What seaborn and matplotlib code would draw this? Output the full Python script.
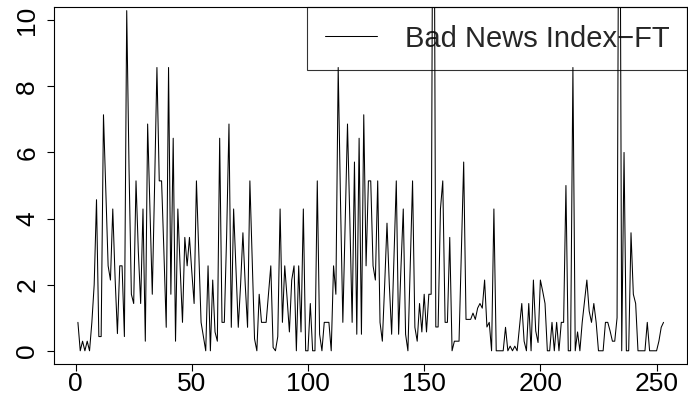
import numpy as np
import matplotlib
matplotlib.use("Agg")
import matplotlib.pyplot as plt
import seaborn as sns

# weekly values of the index
bad_news_ft = [
    0.86, 0, 0.29, 0, 0.29, 0, 0.86, 2.0, 4.57, 0.43,
    0.43, 7.14, 4.9, 2.57, 2.14, 4.29, 2.2, 0.52, 2.57, 2.57,
    0.43, 10.29, 5.5, 1.71, 1.43, 5.14, 3.0, 1.43, 4.29, 0.29,
    6.86, 4.3, 1.71, 5.0, 8.57, 5.14, 5.14, 3.0, 0.71, 8.57,
    1.71, 6.43, 0.29, 4.29, 2.5, 0.86, 3.43, 2.57, 3.43, 2.4,
    1.43, 5.14, 3.0, 0.86, 0.43, 0, 2.57, 0, 2.14, 0.57,
    0.29, 6.43, 0.86, 0.86, 3.5, 6.86, 0.71, 4.29, 2.5, 0.71,
    2.0, 3.57, 2.0, 0.71, 5.14, 2.8, 0.36, 0, 1.71, 0.86,
    0.86, 0.86, 1.71, 2.57, 0.1, 0, 0.43, 4.29, 0.86, 2.57,
    1.6, 0.57, 2.14, 2.57, 0, 2.57, 0.57, 4.29, 0, 0,
    1.43, 0, 0, 5.14, 0.5, 0, 0.86, 0.86, 0.86, 0,
    2.57, 1.71, 8.57, 4.5, 0.86, 3.9, 6.86, 4.0, 0.86, 5.71,
    0.5, 6.43, 0.5, 7.14, 2.57, 5.14, 5.14, 2.57, 2.14, 5.14,
    0.86, 0.29, 2.0, 3.86, 2.0, 0.5, 2.8, 5.14, 0.5, 2.5,
    4.29, 0.5, 0, 2.6, 5.14, 0.71, 0.29, 1.43, 0.57, 1.71,
    0.57, 1.71, 1.71, 20.0, 0.72, 0.72, 4.29, 5.14, 0.86, 0.86,
    3.43, 0, 0.29, 0.29, 0.29, 3.0, 5.71, 0.95, 0.95, 0.95,
    1.14, 0.95, 1.29, 1.43, 1.29, 2.14, 0.72, 0.86, 0, 4.29,
    0, 0, 0, 0, 0.71, 0, 0.14, 0, 0.14, 0,
    0.71, 1.43, 0.29, 0, 1.43, 0, 2.14, 0.6, 0.25, 2.14,
    1.8, 1.43, 0, 0, 0.86, 0, 0.86, 0, 0.86, 0.86,
    5.0, 0, 0, 8.57, 0, 0.57, 0, 0.86, 1.5, 2.14,
    1.2, 0.86, 1.43, 0.86, 0, 0, 0, 0.86, 0.86, 0.6,
    0.29, 0.29, 1.0, 20.0, 0, 6.0, 0, 0, 3.57, 1.71,
    1.43, 0, 0, 0, 0, 0.86, 0, 0, 0, 0,
    0.29, 0.71, 0.86,
]
x_ticks = [0, 50, 100, 150, 200, 250]
y_ticks = [0, 2, 4, 6, 8, 10]
series_label = "Bad News Index\u2212FT"

sns.set_style("ticks")
plt.rcParams["font.family"] = ["Liberation Sans", "DejaVu Sans"]

idx = np.arange(1, len(bad_news_ft) + 1)

fig = plt.figure(figsize=(6.88, 3.96), dpi=100)
ax = fig.add_axes([0.0792, 0.0808, 0.9193, 0.9015])

sns.lineplot(x=idx, y=bad_news_ft, color="black", linewidth=0.75,
             label=series_label, ax=ax)

# R-like padded limits
n = len(bad_news_ft)
pad_x = 0.04 * (n - 1)
ax.set_xlim(1 - pad_x, n + pad_x)
ax.set_ylim(-0.4, 10.4)

ax.set_xticks(x_ticks)
ax.set_yticks(y_ticks)
ax.tick_params(axis="both", direction="out", length=5, width=0.8,
               labelsize=19, colors="black")
ax.tick_params(axis="x", pad=1)
ax.tick_params(axis="y", pad=6, labelrotation=90)
for lab in ax.get_yticklabels():
    lab.set_va("center")

for sp in ax.spines.values():
    sp.set_visible(True)
    sp.set_linewidth(0.8)
    sp.set_color("black")

ax.set_xlabel("")
ax.set_ylabel("")

leg = ax.legend(loc="upper right", borderaxespad=0, fontsize=21,
                handlelength=1.8, handletextpad=0.95, borderpad=0.6,
                fancybox=False, frameon=True)
leg.get_frame().set_facecolor("none")
leg.get_frame().set_edgecolor("black")
leg.get_frame().set_linewidth(0.8)
leg.set_zorder(1)
for line in leg.get_lines():
    line.set_linewidth(0.75)

fig.savefig("out.png", dpi=100)
